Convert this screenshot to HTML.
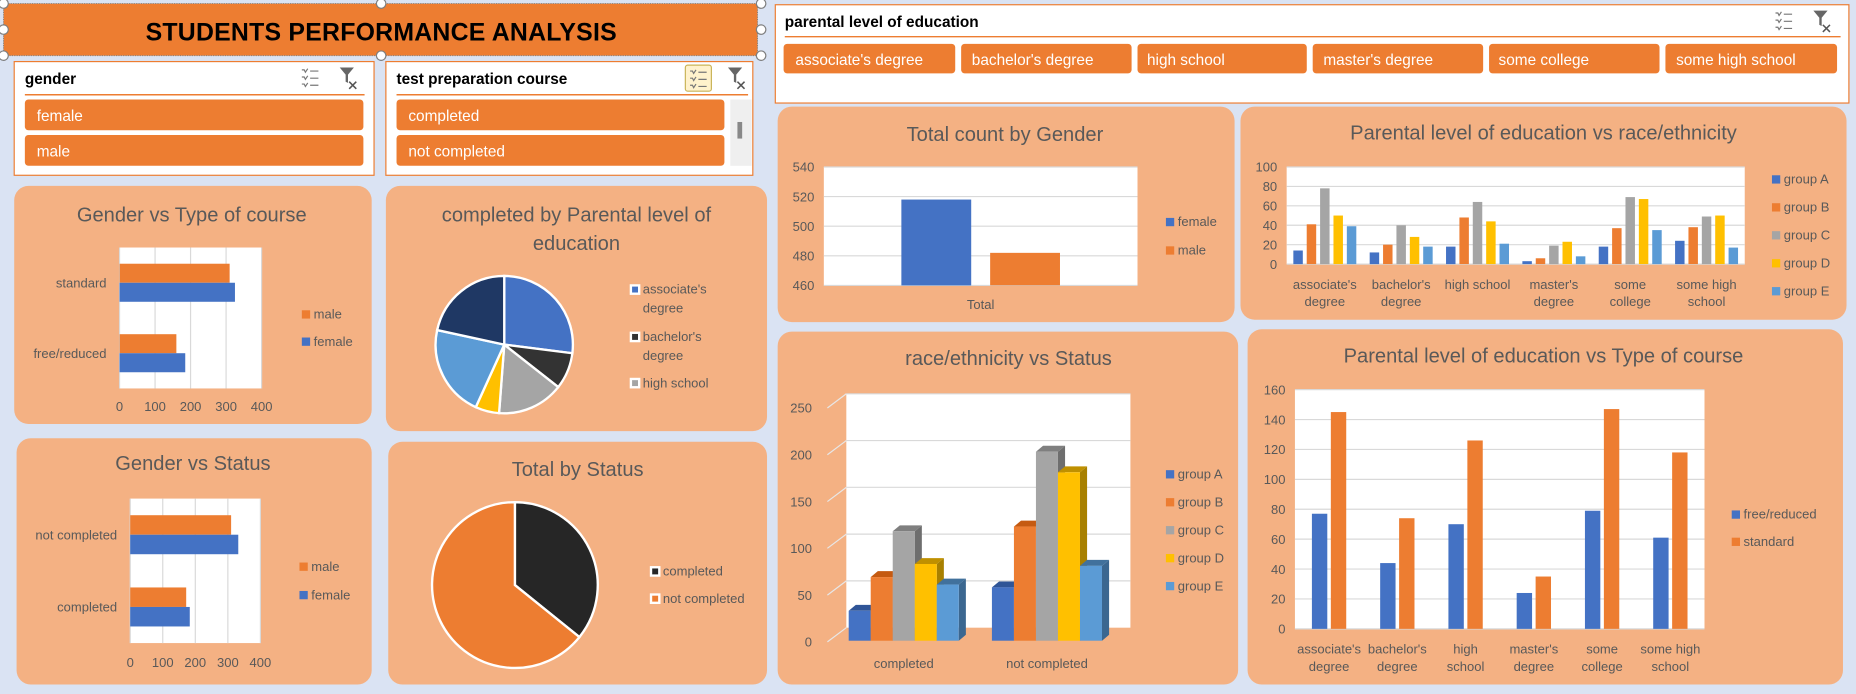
<!DOCTYPE html>
<html><head><meta charset="utf-8"><title>Students Performance Analysis</title>
<style>
html,body{margin:0;padding:0;background:#dae3f3;overflow:hidden}
svg{display:block}
text{font-family:"Liberation Sans",sans-serif}
</style></head><body>
<svg id="root" width="1856" height="694" viewBox="0 0 1568 586" preserveAspectRatio="none" xmlns="http://www.w3.org/2000/svg">
<rect x="0" y="0" width="1568" height="586" fill="#dae3f3"/>
<g>
<rect x="3" y="3" width="637" height="44" fill="#ed7d31" stroke="#7f7f7f" stroke-dasharray="1,1" stroke-width="0.8"/>
<text x="322" y="34" text-anchor="middle" font-size="21" font-weight="bold" fill="#000" textLength="398">STUDENTS  PERFORMANCE  ANALYSIS</text>
<g fill="#fff" stroke="#7f7f7f" stroke-width="1">
<circle cx="3" cy="3" r="4"/><circle cx="322" cy="3" r="4"/><circle cx="643" cy="3" r="4"/>
<circle cx="3" cy="25" r="4"/><circle cx="643" cy="25" r="4"/>
<circle cx="3" cy="47" r="4"/><circle cx="322" cy="47" r="4"/><circle cx="643" cy="47" r="4"/>
</g>
</g>

<!-- gender slicer -->
<g>
<rect x="12" y="52" width="304" height="96" fill="#fff" stroke="#ed7d31"/>
<text x="21" y="71" font-size="13" font-weight="bold" fill="#000">gender</text>
<g stroke="#777" stroke-width="1" fill="none"><path d="M255 59h2l1 2 2-3M262 60h7M255 65h2l1 2 2-3M262 66h7M255 71h2l1 2 2-3M262 72h7"/></g>
<g><path d="M287 57h12l-5 6v7l-2-1v-6z" fill="#666"/><path d="M295 69l6 6M301 69l-6 6" stroke="#555" stroke-width="1.3"/></g>
<line x1="21" y1="80" x2="308" y2="80" stroke="#ed7d31" stroke-width="1.2"/>
<g><rect x="21" y="84" width="286" height="26" rx="3" fill="#ed7d31"/><text x="31" y="102" font-size="13" fill="#fff">female</text></g>
<g><rect x="21" y="114" width="286" height="26" rx="3" fill="#ed7d31"/><text x="31" y="132" font-size="13" fill="#fff">male</text></g>
</g>

<!-- test prep slicer -->
<g>
<rect x="326" y="52" width="310" height="96" fill="#fff" stroke="#ed7d31"/>
<text x="335" y="71" font-size="13" font-weight="bold" fill="#000">test preparation course</text>
<g><rect x="579" y="55" width="22" height="22" rx="2" fill="#fff2cc" stroke="#c9b458"/><path d="M583 60h2l1 2 2-3M590 61h7M583 66h2l1 2 2-3M590 67h7M583 72h2l1 2 2-3M590 73h7" stroke="#777" fill="none"/></g>
<g><path d="M615 57h12l-5 6v7l-2-1v-6z" fill="#666"/><path d="M623 69l6 6M629 69l-6 6" stroke="#555" stroke-width="1.3"/></g>
<line x1="335" y1="80" x2="632" y2="80" stroke="#ed7d31" stroke-width="1.2"/>
<g><rect x="335" y="84" width="277" height="26" rx="3" fill="#ed7d31"/><text x="345" y="102" font-size="13" fill="#fff">completed</text></g>
<g><rect x="335" y="114" width="277" height="26" rx="3" fill="#ed7d31"/><text x="345" y="132" font-size="13" fill="#fff">not completed</text></g>
<g><rect x="617" y="84" width="18" height="56" fill="#efefef"/><rect x="623" y="103" width="4" height="14" fill="#888"/></g>
</g>

<!-- parental slicer -->
<g>
<rect x="655" y="4" width="907" height="83" fill="#fff" stroke="#ed7d31"/>
<text x="663" y="23" font-size="13" font-weight="bold" fill="#000">parental level of education</text>
<g stroke="#777" fill="none"><path d="M1500 11h2l1 2 2-3M1507 12h7M1500 17h2l1 2 2-3M1507 18h7M1500 23h2l1 2 2-3M1507 24h7"/></g>
<g><path d="M1532 9h12l-5 6v7l-2-1v-6z" fill="#666"/><path d="M1540 21l6 6M1546 21l-6 6" stroke="#555" stroke-width="1.3"/></g>
<line x1="663" y1="31" x2="1555" y2="31" stroke="#ed7d31" stroke-width="1.2"/>
<g><rect x="662" y="37" width="145" height="25" rx="3" fill="#ed7d31"/><text x="672" y="55" font-size="13" fill="#fff">associate's degree</text></g>
<g><rect x="812" y="37" width="144" height="25" rx="3" fill="#ed7d31"/><text x="821" y="55" font-size="13" fill="#fff">bachelor's degree</text></g>
<g><rect x="961" y="37" width="143" height="25" rx="3" fill="#ed7d31"/><text x="969" y="55" font-size="13" fill="#fff">high school</text></g>
<g><rect x="1109" y="37" width="144" height="25" rx="3" fill="#ed7d31"/><text x="1118" y="55" font-size="13" fill="#fff">master's degree</text></g>
<g><rect x="1258" y="37" width="144" height="25" rx="3" fill="#ed7d31"/><text x="1266" y="55" font-size="13" fill="#fff">some college</text></g>
<g><rect x="1407" y="37" width="145" height="25" rx="3" fill="#ed7d31"/><text x="1416" y="55" font-size="13" fill="#fff">some high school</text></g>
</g>

<!-- panels -->
<rect x="12" y="157" width="302" height="201" rx="12" fill="#f4b183"/>
<rect x="326" y="157" width="322" height="207" rx="12" fill="#f4b183"/>
<rect x="14" y="370" width="300" height="208" rx="12" fill="#f4b183"/>
<rect x="328" y="373" width="320" height="205" rx="12" fill="#f4b183"/>
<rect x="657" y="90" width="386" height="182" rx="12" fill="#f4b183"/>
<rect x="1048" y="90" width="512" height="180" rx="12" fill="#f4b183"/>
<rect x="657" y="280" width="389" height="298" rx="12" fill="#f4b183"/>
<rect x="1054" y="278" width="503" height="300" rx="12" fill="#f4b183"/>

<g fill="#595959" font-size="17" text-anchor="middle">
<text x="162" y="187">Gender vs Type of course</text>
<text x="487" y="187">completed by Parental level of</text>
<text x="487" y="211">education</text>
<text x="163" y="397">Gender vs Status</text>
<text x="488" y="402">Total by Status</text>
<text x="849" y="119">Total count by Gender</text>
<text x="1304" y="118">Parental level of education vs race/ethnicity</text>
<text x="852" y="308">race/ethnicity vs Status</text>
<text x="1304" y="306">Parental level of education vs Type of course</text>
</g>
<g id="charts"></g>
</svg>
<script>
// ---------- data ----------
const genderTypeCats = ["standard", "free/reduced"];
const genderTypeMale = [310, 160];
const genderTypeFemale = [325, 185];
const genderStatusCats = ["not completed", "completed"];
const genderStatusMale = [310, 172];
const genderStatusFemale = [332, 183];
const hTicks = [0, 100, 200, 300, 400];

const completedParentalCats = ["associate's degree", "bachelor's degree", "high school", "master's degree", "some college", "some high school"];
const completedParentalVals = [27, 8.6, 15.6, 5.6, 21.6, 21.6];

const statusCats = ["completed", "not completed"];
const statusVals = [358, 642];

const genderCountCats = ["female", "male"];
const genderCountVals = [518, 482];
const genderCountTicks = [460, 480, 500, 520, 540];

const eduCats = [["associate's","degree"],["bachelor's","degree"],["high school"],["master's","degree"],["some","college"],["some high","school"]];
const raceGroups = ["group A", "group B", "group C", "group D", "group E"];
const raceA = [14, 12, 18, 3, 18, 24];
const raceB = [41, 20, 48, 6, 37, 38];
const raceC = [78, 40, 64, 19, 69, 49];
const raceD = [50, 28, 44, 23, 67, 50];
const raceE = [39, 18, 21, 8, 35, 17];
const raceTicks = [0, 20, 40, 60, 80, 100];

const rsCats = ["completed", "not completed"];
const rsA = [32, 57];
const rsB = [68, 122];
const rsC = [117, 202];
const rsD = [82, 180];
const rsE = [60, 80];
const rsTicks = [0, 50, 100, 150, 200, 250];

const typeCats = [["associate's","degree"],["bachelor's","degree"],["high","school"],["master's","degree"],["some","college"],["some high","school"]];
const typeFree = [77, 44, 70, 24, 79, 61];
const typeStd = [145, 74, 126, 35, 147, 118];
const typeTicks = [0, 20, 40, 60, 80, 100, 120, 140, 160];

const BLUE="#4472c4", ORANGE="#ed7d31", GRAY="#a5a5a5", GOLD="#ffc000", LBLUE="#5b9bd5", NAVY="#1f3864", DARK="#333333";
const NS="http://www.w3.org/2000/svg";
const root=document.getElementById('charts');
function mk(tag, attrs, parent){const e=document.createElementNS(NS,tag);for(const k in attrs)e.setAttribute(k,attrs[k]);(parent||root).appendChild(e);return e;}
function txt(x,y,s,anchor,size,parent){const t=mk('text',{x:x,y:y,'text-anchor':anchor||'start','font-size':size||11,fill:'#595959'},parent);t.textContent=s;return t;}
function legend(x,y,color,label,name,boxed){
  const g=mk('g',{});
  
  
  if(boxed){mk('rect',{x:x-1,y:y-8,width:9,height:9,fill:'#fff'},g);mk('rect',{x:x+1,y:y-6,width:5,height:5,fill:color},g);}
  else mk('rect',{x:x,y:y-7,width:7,height:7,fill:color},g);
  txt(x+10,y,label,'start',11,g);
}

// ---------- horizontal clustered bars ----------
function hbar(px,py,pw,ph,cats,male,female,prefix,tickY,legX,legY1,legY2){
  const sx=v=>px+v/400*pw;
  const band=ph/cats.length, bt=ph*0.135;
  mk('rect',{x:px,y:py,width:pw,height:ph,fill:'#fff'});
  hTicks.forEach(t=>{
    if(t>0){const l=mk('line',{x1:sx(t),y1:py,x2:sx(t),y2:py+ph,stroke:'#d9d9d9'});}
    const tl=txt(sx(t),tickY,String(t),'middle',11);
    
    
  });
  mk('line',{x1:px,y1:py,x2:px,y2:py+ph,stroke:'#d9d9d9'});
  cats.forEach((c,i)=>{
    const cy=py+band*(i+0.5);
    const m=mk('rect',{x:px,y:cy-bt,width:sx(male[i])-px,height:bt,fill:ORANGE});
    
    
    const f=mk('rect',{x:px,y:cy,width:sx(female[i])-px,height:bt,fill:BLUE});
    
    
    const cl=txt(px-11,cy+4,c,'end',11);
    
    
  });
  legend(legX,legY1,ORANGE,'male',prefix+'-legend-male');
  legend(legX,legY2,BLUE,'female',prefix+'-legend-female');
}
hbar(101,209,120,119,genderTypeCats,genderTypeMale,genderTypeFemale,'gender-type',347,255,269,292);
hbar(110,421,110,122,genderStatusCats,genderStatusMale,genderStatusFemale,'gender-status',563,253,482,506);

// ---------- pies ----------
function pie(cx,cy,r,vals,colors,prefix,cats){
  const tot=vals.reduce((a,b)=>a+b,0);let a=0;
  vals.forEach((v,i)=>{
    const a0=a/tot*2*Math.PI, a1=(a+v)/tot*2*Math.PI; a+=v;
    const x0=cx+r*Math.sin(a0), y0=cy-r*Math.cos(a0), x1=cx+r*Math.sin(a1), y1=cy-r*Math.cos(a1);
    const large=(a1-a0)>Math.PI?1:0;
    const p=mk('path',{d:`M${cx},${cy}L${x0},${y0}A${r},${r} 0 ${large} 1 ${x1},${y1}Z`,fill:colors[i],stroke:'#fff','stroke-width':2});
    
    
  });
}
pie(426,291,58,completedParentalVals,[BLUE,DARK,GRAY,GOLD,LBLUE,NAVY],'completed-parental',completedParentalCats);
legend(533,248,BLUE,"associate's",'completed-parental-legend-associates',true);
txt(543,264,'degree','start',11);
legend(533,288,DARK,"bachelor's",'completed-parental-legend-bachelors',true);
txt(543,304,'degree','start',11);
legend(533,327,GRAY,'high school','completed-parental-legend-high-school',true);

pie(435,494,70,statusVals,['#262626',ORANGE],'total-status',statusCats);
legend(550,486,'#262626','completed','total-status-legend-completed',true);
legend(550,509,ORANGE,'not completed','total-status-legend-not-completed',true);

// ---------- vertical clustered bars ----------
function vbar(px,py,pw,ph,cats,series,colors,ticks,prefix,barW,gap,labelY,names){
  const lo=ticks[0],hi=ticks[ticks.length-1];
  const sy=v=>py+ph-(v-lo)/(hi-lo)*ph;
  mk('rect',{x:px,y:py,width:pw,height:ph,fill:'#fff'});
  ticks.forEach(t=>{
    const l=mk('line',{x1:px,y1:sy(t),x2:px+pw,y2:sy(t),stroke:'#d9d9d9'});
    
    
    const tl=txt(px-8,sy(t)+4,String(t),'end',11);
    
    
  });
  const cw=pw/cats.length, n=series.length, gw=n*barW+(n-1)*gap;
  cats.forEach((c,i)=>{
    const cx=px+cw*(i+0.5);
    series.forEach((s,j)=>{
      const x=cx-gw/2+j*(barW+gap);
      const b=mk('rect',{x:x,y:sy(s[i]),width:barW,height:sy(lo)-sy(s[i]),fill:colors[j]});
      
      
    });
    const lines=Array.isArray(c)?c:[c];
    lines.forEach((ln,k)=>{
      const t=txt(cx,labelY+k*14.5,ln,'middle',11);
      
      
    });
  });
  return sy;
}
vbar(696,141,265,100,['Total'],[[genderCountVals[0]],[genderCountVals[1]]],[BLUE,ORANGE],genderCountTicks,'gender-count',59,16,261,genderCountCats);
legend(985,191,BLUE,'female','gender-count-legend-female');
legend(985,215,ORANGE,'male','gender-count-legend-male');

vbar(1087,141,387,82,eduCats,[raceA,raceB,raceC,raceD,raceE],[BLUE,ORANGE,GRAY,GOLD,LBLUE],raceTicks,'parental-race',8,3.3,244,raceGroups);
const rcol=[BLUE,ORANGE,GRAY,GOLD,LBLUE];
raceGroups.forEach((g,i)=>legend(1497,155+i*23.6,rcol[i],g,'parental-race-legend-'+g.replace(' ','-').toLowerCase()));

vbar(1094,329,346,202,typeCats,[typeFree,typeStd],[BLUE,ORANGE],typeTicks,'parental-type',13,3,552,['free/reduced','standard']);
legend(1463,438,BLUE,'free/reduced','parental-type-legend-free-reduced');
legend(1463,461,ORANGE,'standard','parental-type-legend-standard');

// ---------- 3D column chart ----------
(function(){
  const front0=541, k=0.79, dx=16, dy=-11;
  const wallL=715, wallR=955;
  const syF=v=>front0-v*k;
  mk('rect',{x:wallL,y:syF(250)+dy,width:wallR-wallL,height:250*k,fill:'#fff'});
  rsTicks.forEach(t=>{
    const y=syF(t)+dy;
    if(t>0){const l=mk('line',{x1:wallL,y1:y,x2:wallR,y2:y,stroke:'#d9d9d9'});}
    mk('line',{x1:wallL-dx,y1:syF(t)+1,x2:wallL,y2:y,stroke:'#e7e7e7'});
    const tl=txt(686,syF(t)+5,String(t),'end',11);
    
    
  });
  const series=[rsA,rsB,rsC,rsD,rsE];
  const fronts=[BLUE,ORANGE,GRAY,GOLD,LBLUE];
  const tops=['#2f5597','#c55a11','#7f7f7f','#bf9000','#41719c'];
  const sides=['#2f5597','#b4531a','#6e6e6e','#a88000','#3b6790'];
  const bw=18.6, cw=121, start=763.5, ddx=6, ddy=-5;
  rsCats.forEach((c,i)=>{
    const cx=start+i*cw;
    series.forEach((s,j)=>{
      const x=cx-2.5*bw+j*bw, y=syF(s[i]);
      const g=mk('g',{});
      
      
      mk('polygon',{points:`${x+bw},${y} ${x+bw+ddx},${y+ddy} ${x+bw+ddx},${front0+ddy} ${x+bw},${front0}`,fill:sides[j]},g);
      mk('polygon',{points:`${x},${y} ${x+ddx},${y+ddy} ${x+bw+ddx},${y+ddy} ${x+bw},${y}`,fill:tops[j]},g);
      mk('rect',{x:x,y:y,width:bw,height:front0-y,fill:fronts[j]},g);
    });
    const t=txt(cx,564,c,'middle',11);
    
    
  });
  raceGroups.forEach((g,i)=>legend(985,404+i*23.6,fronts[i],g,'race-status-legend-'+g.replace(' ','-').toLowerCase()));
})();
</script>
</body></html>
